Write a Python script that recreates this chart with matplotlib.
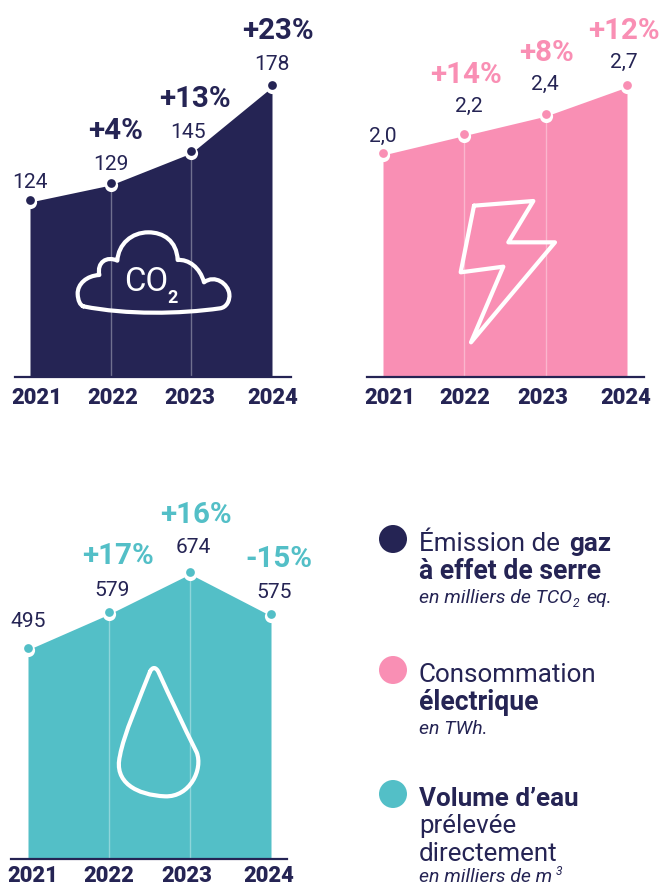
import numpy as np
import matplotlib
matplotlib.use("Agg")
import matplotlib.pyplot as plt
from matplotlib.path import Path
from matplotlib.patches import PathPatch, Circle
from matplotlib.transforms import offset_copy

W, H = 662, 887

annees = [2021, 2022, 2023, 2024]
emission = [124, 129, 145, 178]
emission_txt = ["124", "129", "145", "178"]
emission_pct = ["+4%", "+13%", "+23%"]
electricite = [2.0, 2.2, 2.4, 2.7]
electricite_txt = ["2,0", "2,2", "2,4", "2,7"]
electricite_pct = ["+14%", "+8%", "+12%"]
eau = [495, 579, 674, 575]
eau_txt = ["495", "579", "674", "575"]
eau_pct = ["+17%", "+16%", "-15%"]

NAVY = "#252454"
PINK = "#F98FB4"
TEAL = "#53BFC7"

fig = plt.figure(figsize=(W / 100, H / 100), dpi=100, facecolor="white")


def area_chart(x0, x1, left, right, top, base, values, ylim, col):
    ax = fig.add_axes([left / W, 1 - base / H, (right - left) / W, (base - top) / H])
    step = (x1 - x0) / 3
    ax.set_xlim(2021 - (x0 - left) / step, 2024 + (right - x1) / step)
    ax.patch.set_alpha(0)
    ax.fill_between(annees, values, ylim[0], color=col, lw=0, zorder=1)
    ax.vlines(annees[1:3], ylim[0], values[1:3], color="white", alpha=0.35, lw=1, zorder=2)
    ax.plot(annees, values, ls="", marker="o", ms=9.5, mfc="white", mec="none", clip_on=False, zorder=3)
    up = offset_copy(ax.transData, fig=fig, x=0, y=2, units="dots")
    ax.plot(annees, values, ls="", marker="o", ms=6.3, mfc=col, mec="none", clip_on=False, zorder=4, transform=up)
    for s in ["top", "left", "right"]:
        ax.spines[s].set_visible(False)
    ax.spines["bottom"].set_color(NAVY)
    ax.spines["bottom"].set_linewidth(1.6)
    ax.spines["bottom"].set_zorder(5)
    ax.set_xticks([])
    ax.set_yticks([])
    return ax


# emission n'est pas tout a fait lineaire dans l'original
ref_val = [0, 124, 129, 178]
ref_haut = [0, 175, 192, 290]
ax1 = area_chart(30, 272, 15, 291, 88, 378, emission, (0, 178), NAVY)
ax1.set_yscale("function", functions=(lambda v: np.interp(v, ref_val, ref_haut),
                                      lambda h: np.interp(h, ref_haut, ref_val)))
ax1.set_ylim(0, 178)
ax1.set_yticks([])
ax1.minorticks_off()
ax1.tick_params(left=False, which="both", labelleft=False)

ax2 = area_chart(383, 627, 367, 644, 88, 378, electricite, (-0.287, 2.7), PINK)
ax2.set_ylim(-0.287, 2.7)

ax3 = area_chart(28, 271, 11, 287, 575, 860, eau, (0, 674), TEAL)
ax3.set_ylim(0, 674)

# calque en pixels pour les textes et les icones
ov = fig.add_axes([0, 0, 1, 1], zorder=10)
ov.set_xlim(0, W)
ov.set_ylim(H, 0)
ov.axis("off")


def label(x, y, s, size, col=NAVY, weight="normal", style="normal", family="Roboto", ha="center"):
    ov.text(x, y, s, fontsize=size * 0.72, color=col, fontweight=weight, fontstyle=style,
            family=family, ha=ha, va="baseline")


def chart_text(vx, vy, vals, px, py, pcts, pct_col, yx, yy):
    for x, y, s in zip(vx, vy, vals):
        label(x, y, s, 21)
    for x, y, s in zip(px, py, pcts):
        label(x, y, s, 29.5, col=pct_col, weight="bold")
    for x, s in zip(yx, annees):
        label(x, yy, str(s), 22, weight="black")


chart_text([30, 110.5, 188, 272], [188, 170, 138, 70], emission_txt,
           [116, 195, 278], [139, 107, 39], emission_pct, NAVY, [37, 113, 190, 273], 404)
chart_text([383, 469, 545, 624], [142, 112, 90, 68], electricite_txt,
           [466, 547, 624], [83, 61, 39], electricite_pct, PINK, [390, 465, 543, 626], 404)
chart_text([28, 112, 193, 274], [627, 596, 553, 598], eau_txt,
           [118, 196, 279], [564, 523, 567], eau_pct, TEAL, [33, 109, 187, 269], 882.5)


def icon(points, codes, dx=0, dy=0):
    v = [((x / 3 + dx), (y / 3 + dy)) for x, y in points]
    ov.add_patch(PathPatch(Path(v, codes), fc="none", ec="white", lw=3, capstyle="round", joinstyle="round"))


C4, L2, MV = Path.CURVE4, Path.LINETO, Path.MOVETO
cloud = [(250, 922),
         (380, 948), (540, 945), (660, 928),
         (680, 925), (690, 905), (688, 885),
         (685, 855), (645, 825), (612, 850),
         (600, 805), (565, 780), (533, 783),
         (530, 725), (490, 700), (445, 700),
         (395, 700), (355, 735), (352, 785),
         (320, 770), (290, 790), (298, 828),
         (260, 830), (232, 855), (233, 885),
         (234, 905), (240, 918), (250, 922)]
icon(cloud, [MV] + [C4] * 27)
label(146.5, 291, "CO", 33, col="white")
label(172.5, 303, "2", 18, col="white", weight="bold")

bolt = [(402, 620), (580, 606), (505, 730), (645, 730), (393, 1030), (490, 803), (362, 820), (402, 620)]
icon(bolt, [MV] + [L2] * 7, dx=340)

drop = [(450, 548),
        (458, 532), (468, 535), (475, 548),
        (510, 625), (550, 710), (590, 790),
        (610, 840), (570, 925), (495, 922),
        (410, 918), (340, 880), (360, 800),
        (370, 740), (420, 625), (450, 548)]
icon(drop, [MV] + [C4] * 15, dy=490)

# legende
for cy, col in zip([540, 671, 795], [NAVY, PINK, TEAL]):
    ov.add_patch(Circle((393, cy), 14, fc=col, ec="none"))

TX = 419
label(TX, 551, "Émission de", 26, ha="left")
label(569, 551, "gaz", 26, weight="bold", ha="left")
label(TX, 579, "à effet de serre", 26.5, weight="bold", ha="left")
label(TX, 603, "en milliers de TCO", 19.5, style="italic", ha="left")
label(573, 607, "2", 12, style="italic", ha="left")
label(586, 603, "eq.", 19.5, style="italic", ha="left")
label(TX, 682, "Consommation", 26, ha="left")
label(TX, 710, "électrique", 26.5, weight="bold", ha="left")
label(TX, 734, "en TWh.", 19.5, style="italic", ha="left")
label(TX, 806, "Volume d’eau", 26, weight="bold", ha="left")
label(TX, 833, "prélevée", 26, ha="left")
label(TX, 861, "directement", 26, ha="left")
label(TX, 882.5, "en milliers de m", 19.5, style="italic", ha="left")
label(555.5, 875, "3", 12, style="italic", ha="left")

fig.savefig("out.png", dpi=100)
